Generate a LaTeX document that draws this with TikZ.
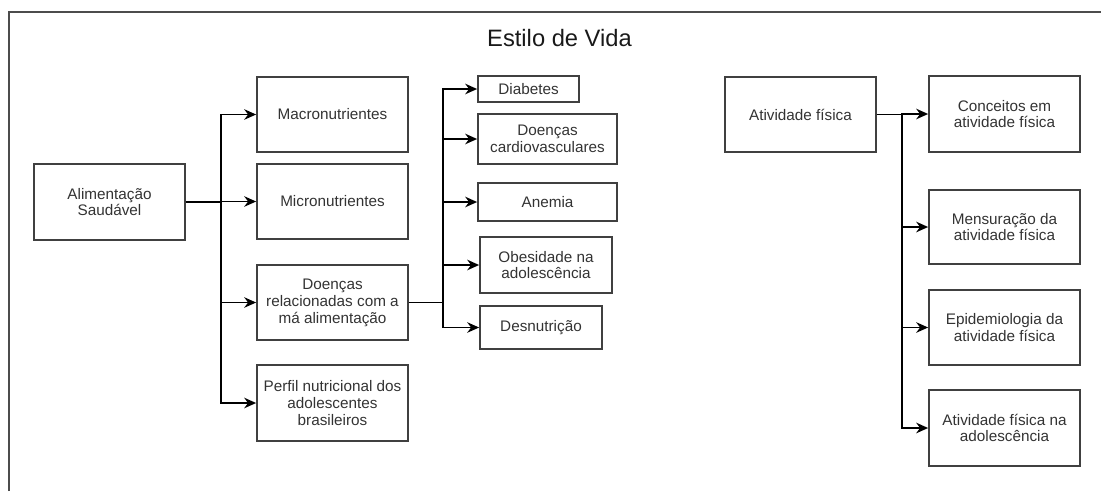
\documentclass[tikz,border=0pt]{standalone}
\usepackage[svgnames]{xcolor}
\usepackage{fontspec}
\setmainfont{Liberation Sans}
\usetikzlibrary{arrows.meta}

\begin{document}
\begin{tikzpicture}[x=0.02cm, y=-0.02cm, -{Stealth[length=6.8pt,width=6pt]}, color=black, line width=1.05pt,
      every node/.append style={font=\fontsize{8.7}{9.6}\selectfont, text=black!80, align=center},
      topic/.style={draw=black!75, line width=1pt, inner sep=0pt, minimum width=3.02cm, minimum height=1.5cm}]
    \tikzstyle{title} = [font=\fontsize{13.5}{15}\selectfont, text=black!90]
    \useasboundingbox (0,0) rectangle (1101,491);
    \draw [-, draw=black!70, line width=0.8pt] (9,491) -- (9,12) -- (1101,12);
    \node [title] (estilo) at (559.5,38) {Estilo de Vida};

    \node [topic, minimum height=1.52cm] (alim) at (109.5,202) {Alimentação\\Saudável};
    \node [topic] (macro) at (332.5,114.5) {Macronutrientes};
    \node [topic] (micro) at (332.5,201.5) {Micronutrientes};
    \node [topic] (doencas) at (332.5,302.5) {Doenças\\relacionadas com a\\má alimentação};
    \node [topic, minimum height=1.52cm] (perfil) at (332.5,403) {Perfil nutricional dos\\adolescentes\\brasileiros};

    \node [topic, minimum width=2.02cm, minimum height=0.52cm] (diabetes) at (528.5,89) {Diabetes};
    \node [topic, minimum width=2.78cm, minimum height=1cm] (cardio) at (547.5,139) {Doenças\\cardiovasculares};
    \node [topic, minimum width=2.78cm, minimum height=0.76cm] (anemia) at (547.5,202) {Anemia};
    \node [topic, minimum width=2.64cm, minimum height=1.12cm] (obesidade) at (546,265) {Obesidade na\\adolescência};
    \node [topic, minimum width=2.44cm, minimum height=0.86cm] (desnut) at (541,327.5) {Desnutrição};

    \node [topic] (ativ) at (800.5,114.5) {Atividade física};
    \node [topic, minimum height=1.52cm] (conceitos) at (1004.5,114) {Conceitos em\\atividade física};
    \node [topic, minimum height=1.48cm] (mensur) at (1004.5,227) {Mensuração da\\atividade física};
    \node [topic] (epidem) at (1004.5,327.5) {Epidemiologia da\\atividade física};
    \node [topic, minimum height=1.52cm] (adolesc) at (1004.5,428) {Atividade física na\\adolescência};

    \coordinate (alim-split) at (221,202);
    \coordinate (doencas-split) at (443,302.5);
    \coordinate (ativ-split) at (902,114.5);

    \draw (alim.east) -- (alim-split) |- (macro.west);
    \draw (alim.east) -- (alim-split) |- (micro.west);
    \draw (alim.east) -- (alim-split) |- (doencas.west);
    \draw (alim.east) -- (alim-split) |- (perfil.west);

    \draw (doencas.east) -- (doencas-split) |- (diabetes.west);
    \draw (doencas.east) -- (doencas-split) |- (cardio.west);
    \draw (doencas.east) -- (doencas-split) |- (anemia.west);
    \draw (doencas.east) -- (doencas-split) |- (obesidade.west);
    \draw (doencas.east) -- (doencas-split) |- (desnut.west);

    \draw (ativ.east) -- (ativ-split) |- (conceitos.west);
    \draw (ativ.east) -- (ativ-split) |- (mensur.west);
    \draw (ativ.east) -- (ativ-split) |- (epidem.west);
    \draw (ativ.east) -- (ativ-split) |- (adolesc.west);
  \end{tikzpicture}
\end{document}
